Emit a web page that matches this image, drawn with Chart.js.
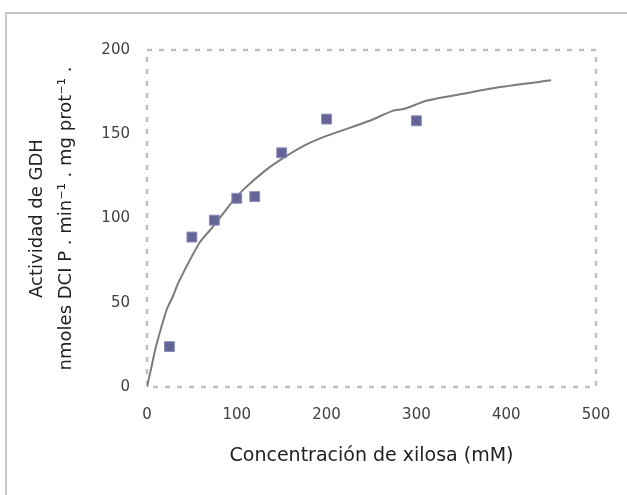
<!DOCTYPE html>
<html>
<head>
<meta charset="utf-8">
<script src="https://cdn.jsdelivr.net/npm/chart.js@4/dist/chart.umd.min.js"></script>
<style>
  html, body { margin: 0; padding: 0; background: #fff; }
  #wrap { width: 627px; height: 495px; position: relative; }
</style>
</head>
<body>
<div id="wrap"><canvas id="grafico"></canvas></div>
<script>
// Datos medidos (xilosa mM, actividad)
const xilosa = [25, 50, 75, 100, 120, 150, 200, 300];
const actividad = [24, 89, 99, 112, 113, 139, 159, 158];

// Curva ajustada
const curvaX = [0, 5, 10, 22, 29, 35, 59, 75, 92, 107, 133, 152, 174, 200, 248, 274, 286, 312, 352, 393, 450];
const curvaY = [0, 12, 24, 46, 54, 62, 86, 96, 108, 117, 129, 136, 143, 149, 158, 164, 165, 170, 174, 178, 182];

const xTicks = [0, 100, 200, 300, 400, 500];
const yTicks = [0, 50, 100, 150, 200];

const fuente = 'DejaVu Sans';

// Bordes: marco exterior y area de trazado punteada
const bordes = {
    id: 'bordes',
    beforeDraw(chart) {
        const ctx = chart.ctx;
        const a = chart.chartArea;
        ctx.save();
        ctx.strokeStyle = '#c8c8c8';
        ctx.lineWidth = 2;
        ctx.beginPath();
        ctx.moveTo(6, 495);
        ctx.lineTo(6, 13);
        ctx.lineTo(627, 13);
        ctx.stroke();
        ctx.strokeStyle = '#bfbfbf';
        ctx.lineWidth = 2.5;
        ctx.setLineDash([5, 7]);
        ctx.strokeRect(a.left, a.top, a.right - a.left, a.bottom - a.top);
        ctx.restore();
    }
};

new Chart(document.getElementById('grafico'), {
    type: 'scatter',
    data: {
        datasets: [
            {
                label: 'Datos',
                data: xilosa.map((x, i) => ({ x: x, y: actividad[i] })),
                pointStyle: 'rect',
                pointRadius: 7,
                backgroundColor: '#646496',
                borderColor: '#8c8cba',
                borderWidth: 1,
                order: 1
            },
            {
                label: 'Ajuste',
                type: 'line',
                data: curvaX.map((x, i) => ({ x: x, y: curvaY[i] })),
                showLine: true,
                borderColor: '#7b7b7b',
                borderWidth: 2,
                pointRadius: 0,
                tension: 0.2,
                fill: false,
                order: 2
            }
        ]
    },
    options: {
        responsive: true,
        maintainAspectRatio: false,
        animation: false,
        layout: { padding: { left: 20, top: 50, right: 31, bottom: 20 } },
        plugins: { legend: { display: false }, tooltip: { enabled: false } },
        scales: {
            x: {
                type: 'linear',
                min: 0,
                max: 500,
                afterBuildTicks: s => { s.ticks = xTicks.map(v => ({ value: v })); },
                afterFit: s => { s.height = 88; s.paddingRight = 0; },
                grid: { display: false, drawTicks: false },
                border: { display: false },
                ticks: { color: '#404040', font: { family: fuente, size: 15 }, padding: 19 },
                title: {
                    display: true,
                    text: 'Concentración de xilosa (mM)',
                    color: '#222',
                    font: { family: fuente, size: 19 },
                    padding: { top: 0, bottom: 8 }
                }
            },
            y: {
                min: 0,
                max: 200,
                afterBuildTicks: s => { s.ticks = yTicks.map(v => ({ value: v })); },
                afterFit: s => { s.width = 127; },
                grid: { display: false, drawTicks: false },
                border: { display: false },
                ticks: { color: '#404040', font: { family: fuente, size: 15 }, padding: 17 },
                title: {
                    display: true,
                    text: ['Actividad de GDH', 'nmoles DCI P . min⁻¹ . mg prot⁻¹ .'],
                    color: '#222',
                    font: { family: fuente, size: 18, lineHeight: 1.6 },
                    padding: { top: 3, bottom: 8 }
                }
            }
        }
    },
    plugins: [bordes]
});
</script>
</body>
</html>
